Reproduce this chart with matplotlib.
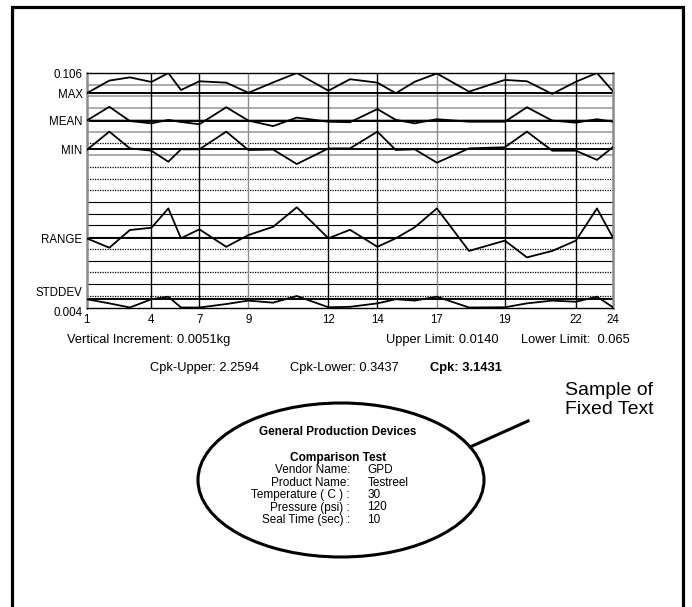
# Lib
import matplotlib
matplotlib.use('Agg')
import matplotlib.pyplot as plt
from matplotlib.patches import Ellipse

plt.rcParams['font.family'] = ['Liberation Sans', 'DejaVu Sans']

# sample positions along the run (relative time, 0 = sample 1, 100 = sample 24)
sample_no = list(range(1, 25))
sample_pos = [0, 4.3, 8.2, 12.3, 15.5, 17.9, 21.4, 26.5, 30.7, 35.4, 39.9, 45.9,
              50.0, 55.2, 58.7, 62.3, 66.5, 72.6, 79.4, 83.6, 88.4, 92.9, 96.9, 100]

max_vals = [0.0972, 0.1027, 0.1041, 0.1021, 0.1060, 0.0986, 0.1024, 0.1018,
            0.0974, 0.1019, 0.1060, 0.0983, 0.1033, 0.1018, 0.0972, 0.1022,
            0.1058, 0.0979, 0.1030, 0.1024, 0.0969, 0.1022, 0.1060, 0.0979]
mean_vals = [0.0853, 0.0913, 0.0851, 0.0841, 0.0856, 0.0847, 0.0837, 0.0911,
             0.0853, 0.0829, 0.0866, 0.0848, 0.0846, 0.0903, 0.0856, 0.0841,
             0.0859, 0.0848, 0.0848, 0.0911, 0.0853, 0.0844, 0.0859, 0.0848]
min_vals = [0.0725, 0.0805, 0.0732, 0.0722, 0.0674, 0.0728, 0.0728, 0.0805,
            0.0725, 0.0727, 0.0664, 0.0732, 0.0732, 0.0805, 0.0725, 0.0728,
            0.0670, 0.0732, 0.0737, 0.0805, 0.0722, 0.0722, 0.0682, 0.0739]
range_vals = [0.0341, 0.0300, 0.0377, 0.0387, 0.0471, 0.0341, 0.0380, 0.0304,
              0.0355, 0.0391, 0.0476, 0.0341, 0.0378, 0.0304, 0.0341, 0.0389,
              0.0471, 0.0286, 0.0331, 0.0258, 0.0286, 0.0331, 0.0471, 0.0341]
stddev_vals = [0.0076, 0.0058, 0.0040, 0.0076, 0.0087, 0.0040, 0.0040, 0.0055,
               0.0070, 0.0061, 0.0090, 0.0041, 0.0043, 0.0058, 0.0076, 0.0070,
               0.0087, 0.0040, 0.0041, 0.0058, 0.0070, 0.0065, 0.0087, 0.0040]

stat_names = ['MAX', 'MEAN', 'MIN', 'RANGE', 'STDDEV']
stat_base = [0.0973, 0.0853, 0.0728, 0.0341, 0.0075]

y_top = 0.106
y_bottom = 0.004
increment = 0.0051

labeled_samples = [1, 4, 7, 9, 12, 14, 17, 19, 22, 24]
gray_samples = [1, 9, 17, 24]

# style of the 19 inner increment lines, top to bottom
grid_styles = ['gray', 'gray', 'gray', 'gray', 'gray', 'dot', 'gray', 'dot', 'dot', 'dot',
               'solid', 'solid', 'solid', 'solid', 'dot', 'solid', 'dot', 'solid', 'dot']

info_row1 = ['Vertical Increment: 0.0051kg', 'Upper Limit: 0.0140', 'Lower Limit:  0.065']
info_row2 = ['Cpk-Upper: 2.2594', 'Cpk-Lower: 0.3437', 'Cpk: 3.1431']
fixed_labels = ['Vendor Name:', 'Product Name:', 'Temperature ( C ) :', 'Pressure (psi) :', 'Seal Time (sec) :']
fixed_values = ['GPD', 'Testreel', '30', '120', '10']

W, H = 692, 607
fig = plt.figure(figsize=(W / 100, H / 100), dpi=100)

# canvas in pixel coords for frame, notes and callout
cv = fig.add_axes([0, 0, 1, 1])
cv.set_xlim(0, W)
cv.set_ylim(H, 0)
cv.axis('off')

cv.plot([12, 12, 683, 683], [H, 7, 7, H], color='black', lw=2.3, solid_joinstyle='miter')

# chart area
left, right, top, bottom = 86.7, 613.3, 73, 307.5
ax = fig.add_axes([left / W, 1 - bottom / H, (right - left) / W, (bottom - top) / H])
ax.patch.set_visible(False)
ax.set_xlim(sample_pos[0], sample_pos[-1])
ax.set_ylim(y_bottom, y_top)

for k, st in enumerate(grid_styles, start=1):
    yv = y_top - k * increment
    if st == 'gray':
        ax.axhline(yv, color='#a6a6a6', lw=1.3, zorder=1)
    elif st == 'dot':
        ax.axhline(yv, color='black', lw=0.9, ls=(0, (1, 1)), zorder=1)
    else:
        ax.axhline(yv, color='black', lw=0.8, zorder=1)

for s in labeled_samples[1:-1]:
    c = '#8c8c8c' if s in gray_samples else 'black'
    ax.axvline(sample_pos[s - 1], color=c, lw=1.0, zorder=2)

for b in stat_base:
    ax.axhline(b, color='black', lw=1.4, zorder=2)

for vals in [max_vals, mean_vals, min_vals, range_vals, stddev_vals]:
    ax.plot(sample_pos, vals, color='black', lw=1.3, zorder=3)

for side in ['top', 'bottom']:
    ax.spines[side].set_color('black')
    ax.spines[side].set_linewidth(1.0)
for side in ['left', 'right']:
    ax.spines[side].set_color('#8c8c8c')
    ax.spines[side].set_linewidth(1.8)

ax.set_xticks([sample_pos[s - 1] for s in labeled_samples])
ax.set_xticklabels([str(s) for s in labeled_samples], fontsize=8.3)
ax.set_yticks([y_top] + stat_base + [y_bottom])
ax.set_yticklabels(['0.106'] + stat_names + ['0.004'], fontsize=8.3)
ax.tick_params(length=0, pad=3)
ax.tick_params(axis='x', pad=5)
ylabels = ax.get_yticklabels()
ylabels[-2].set_va('bottom')
ylabels[-1].set_va('top')

# statistics notes
fs = 9.3
cv.text(67, 340, info_row1[0], fontsize=fs, va='center')
cv.text(386, 340, info_row1[1], fontsize=fs, va='center')
cv.text(521, 340, info_row1[2], fontsize=fs, va='center')
cv.text(150, 368, info_row2[0], fontsize=fs, va='center')
cv.text(290, 368, info_row2[1], fontsize=fs, va='center')
cv.text(430, 368, info_row2[2], fontsize=fs, va='center', fontweight='bold')

# callout
cv.add_patch(Ellipse((341, 480), 286, 154, fill=False, lw=2.2, color='black'))
cv.plot([470, 528], [447, 421], color='black', lw=2.2)
cv.text(565, 400, 'Sample of\nFixed Text', fontsize=14, va='center', ha='left', linespacing=1.15)

cv.text(338, 432, 'General Production Devices', fontsize=8.5, fontweight='bold', ha='center', va='center')
cv.text(338, 457.5, 'Comparison Test', fontsize=8.6, fontweight='bold', ha='center', va='center')
for i, (lab, val) in enumerate(zip(fixed_labels, fixed_values)):
    yy = 470 + i * 12.5
    cv.text(350, yy, lab, fontsize=8.5, ha='right', va='center')
    cv.text(367.5, yy, val, fontsize=8.5, ha='left', va='center')

fig.savefig('out.png', dpi=100)
